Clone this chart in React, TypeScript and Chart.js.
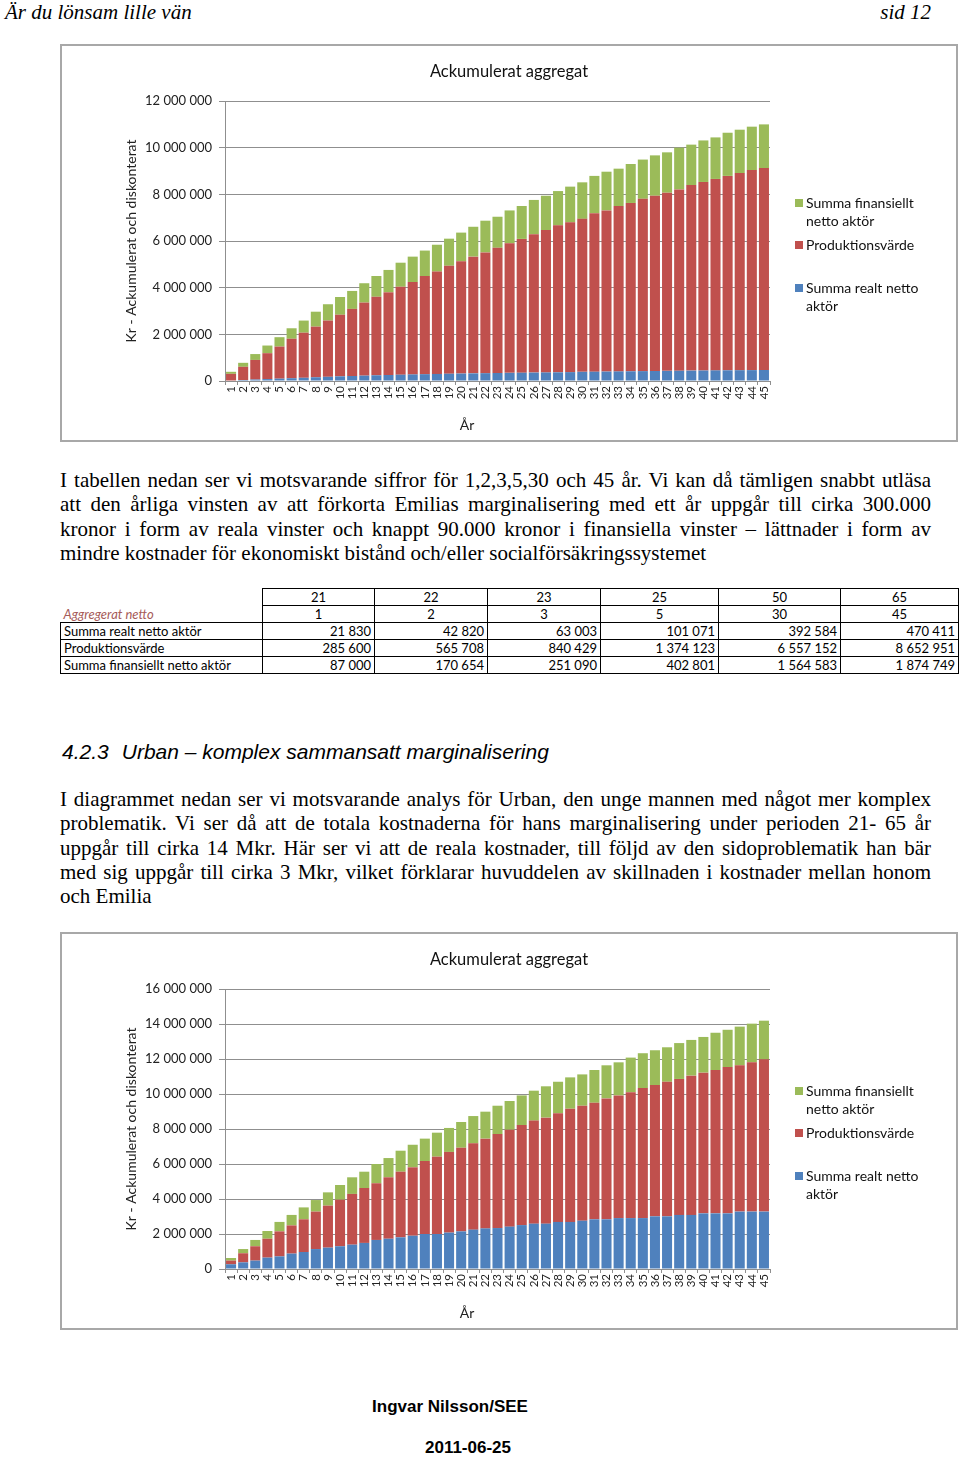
import React, { useEffect, useRef } from 'react';
import { Chart, registerables } from 'chart.js';

Chart.register(...registerables);
Chart.defaults.font.family = 'Lato';

// ---------- data ----------
const yearLabels = ['1','2','3','4','5','6','7','8','9','10','11','12','13','14','15','16','17','18','19','20','21','22','23','24','25','26','27','28','29','30','31','32','33','34','35','36','37','38','39','40','41','42','43','44','45'];

const seriesNames = ['Summa realt netto aktör', 'Produktionsvärde', 'Summa finansiellt netto aktör'];

// Emilia (first chart)
const emiliaReal = [21830, 42820, 63003, 82000, 101071, 120000, 138000, 160000, 180000, 200000, 215000, 230000, 245000, 258000, 270000, 282000, 293000, 303000, 312000, 320000, 328000, 335000, 342000, 349000, 355000, 361000, 367000, 373000, 380000, 392584, 398000, 405000, 411000, 417000, 423000, 429000, 434000, 440000, 445000, 450000, 455000, 459000, 463000, 467000, 470411];
const emiliaProd = [285600, 565708, 840429, 1110000, 1374123, 1690000, 1932000, 2170000, 2410000, 2640000, 2875000, 3130000, 3365000, 3542000, 3770000, 3958000, 4207000, 4387000, 4628000, 4810000, 5002000, 5175000, 5368000, 5551000, 5735000, 5929000, 6103000, 6297000, 6420000, 6557152, 6792000, 6905000, 7089000, 7213000, 7387000, 7511000, 7636000, 7770000, 7955000, 8080000, 8205000, 8331000, 8447000, 8573000, 8652951];
const emiliaFin = [87000, 170654, 251090, 328000, 402801, 450000, 520000, 640000, 700000, 760000, 770000, 830000, 890000, 960000, 1030000, 1090000, 1090000, 1150000, 1160000, 1230000, 1280000, 1360000, 1330000, 1410000, 1410000, 1470000, 1470000, 1470000, 1530000, 1564583, 1600000, 1660000, 1600000, 1670000, 1680000, 1730000, 1730000, 1790000, 1730000, 1780000, 1780000, 1850000, 1860000, 1860000, 1874749];

// Urban (second chart)
const urbanReal = [270000, 380000, 480000, 650000, 720000, 880000, 970000, 1140000, 1220000, 1300000, 1390000, 1490000, 1660000, 1730000, 1810000, 1900000, 2000000, 2000000, 2080000, 2150000, 2250000, 2320000, 2340000, 2420000, 2510000, 2590000, 2590000, 2690000, 2690000, 2760000, 2840000, 2840000, 2910000, 2910000, 2910000, 3010000, 3010000, 3090000, 3090000, 3180000, 3180000, 3180000, 3280000, 3280000, 3280000];
const urbanProd = [210000, 520000, 820000, 1080000, 1430000, 1610000, 1870000, 2140000, 2400000, 2660000, 2900000, 3140000, 3240000, 3510000, 3750000, 3910000, 4170000, 4420000, 4610000, 4780000, 4930000, 5130000, 5370000, 5540000, 5720000, 5890000, 6060000, 6210000, 6470000, 6570000, 6660000, 6910000, 7010000, 7190000, 7430000, 7500000, 7690000, 7770000, 7960000, 8040000, 8190000, 8360000, 8360000, 8530000, 8700000];
const urbanFin = [150000, 240000, 360000, 440000, 540000, 600000, 680000, 660000, 760000, 840000, 950000, 930000, 1100000, 1100000, 1200000, 1290000, 1280000, 1370000, 1370000, 1470000, 1560000, 1540000, 1620000, 1640000, 1690000, 1710000, 1790000, 1800000, 1790000, 1790000, 1870000, 1890000, 1890000, 1980000, 1990000, 1990000, 1970000, 2050000, 2040000, 2040000, 2130000, 2130000, 2210000, 2210000, 2210000];

// table
const tableAges = ['21', '22', '23', '25', '50', '65'];
const tableYears = ['1', '2', '3', '5', '30', '45'];
const tableReal = [21830, 42820, 63003, 101071, 392584, 470411];
const tableProd = [285600, 565708, 840429, 1374123, 6557152, 8652951];
const tableFin = [87000, 170654, 251090, 402801, 1564583, 1874749];

const para1 = [
  'I tabellen nedan ser vi motsvarande siffror för 1,2,3,5,30 och 45 år. Vi kan då tämligen snabbt utläsa',
  'att den årliga vinsten av att förkorta Emilias marginalisering med ett år uppgår till cirka 300.000',
  'kronor i form av reala vinster och knappt 90.000 kronor i finansiella vinster – lättnader i form av',
  'mindre kostnader för ekonomiskt bistånd och/eller socialförsäkringssystemet',
];
const para2 = [
  'I diagrammet nedan ser vi motsvarande analys för Urban, den unge mannen med något mer komplex',
  'problematik. Vi ser då att de totala kostnaderna för hans marginalisering under perioden 21- 65 år',
  'uppgår till cirka 14 Mkr. Här ser vi att de reala kostnader, till följd av den sidoproblematik han bär',
  'med sig uppgår till cirka 3 Mkr, vilket förklarar huvuddelen av skillnaden i kostnader mellan honom',
  'och Emilia',
];

const BLUE = '#4f81bd';
const RED = '#c0504d';
const GREEN = '#9bbb59';
const GRID = '#8f8f8f';

const fmt = (v: number) => String(Math.round(v)).replace(/\B(?=(\d{3})+(?!\d))/g, ' ');

function StackChart(props: { top: number; real: number[]; prod: number[]; fin: number[]; yMax: number }) {
  const ref = useRef<HTMLCanvasElement>(null);
  const { top, real, prod, fin, yMax } = props;
  useEffect(() => {
    if (!ref.current) return;
    const chart = new Chart(ref.current, {
      type: 'bar',
      data: {
        labels: yearLabels,
        datasets: [
          { label: seriesNames[0], data: real, backgroundColor: BLUE, barPercentage: 0.83, categoryPercentage: 1 },
          { label: seriesNames[1], data: prod, backgroundColor: RED, barPercentage: 0.83, categoryPercentage: 1 },
          { label: seriesNames[2], data: fin, backgroundColor: GREEN, barPercentage: 0.83, categoryPercentage: 1 },
        ],
      },
      options: {
        responsive: false,
        animation: false,
        layout: { padding: 0 },
        plugins: {
          legend: { display: false },
          tooltip: { enabled: false },
          title: {
            display: true,
            text: 'Ackumulerat aggregat',
            color: '#111',
            font: { size: 16.5, weight: 'normal' },
            padding: { top: 18.1, bottom: 19.1 },
          },
        },
        scales: {
          x: {
            stacked: true,
            offset: true,
            grid: { display: true, drawOnChartArea: false, drawTicks: true, tickLength: 4, color: GRID, offset: true },
            border: { display: true, color: GRID },
            ticks: { autoSkip: false, maxRotation: 90, minRotation: 90, padding: 1, color: '#222', font: { size: 11.5 } },
            afterFit: (s: any) => { s.height = 61; },
          },
          y: {
            stacked: true,
            min: 0,
            max: yMax,
            grid: { color: GRID, tickLength: 6 },
            border: { display: true, color: GRID },
            ticks: { stepSize: 2000000, padding: 7, color: '#222', font: { size: 13 }, callback: (v: any) => fmt(Number(v)) },
            title: {
              display: true,
              text: 'Kr - Ackumulerat och diskonterat',
              color: '#222',
              font: { size: 14 },
              padding: { top: 62.6, bottom: 0 },
            },
            afterFit: (s: any) => { s.width = 165; },
          },
          y2: {
            position: 'right',
            display: true,
            grid: { display: false },
            border: { display: false },
            ticks: { display: false },
            afterFit: (s: any) => { s.width = 188; },
          },
        },
      } as any,
    });
    return () => chart.destroy();
  }, []);

  const legendText: React.CSSProperties = {
    position: 'absolute', left: 806, fontFamily: 'Lato', fontSize: 14, lineHeight: '18px', color: '#111', whiteSpace: 'nowrap',
  };
  const sq = (color: string, t: number): React.CSSProperties => ({
    position: 'absolute', left: 795, top: t, width: 8, height: 8, background: color,
  });

  return (
    <>
      <div style={{ position: 'absolute', left: 60, top, width: 898, height: 398, boxSizing: 'border-box', border: '2px solid #a8a8a8' }} />
      <canvas ref={ref} width={898} height={398} style={{ position: 'absolute', left: 60, top, width: 898, height: 398, display: 'block' }} />
      <div style={sq(GREEN, top + 155)} />
      <div style={{ ...legendText, top: top + 150 }}>Summa finansiellt<br />netto aktör</div>
      <div style={sq(RED, top + 197)} />
      <div style={{ ...legendText, top: top + 192 }}>Produktionsvärde</div>
      <div style={sq(BLUE, top + 240)} />
      <div style={{ ...legendText, top: top + 235 }}>Summa realt netto<br />aktör</div>
      <div style={{ position: 'absolute', left: 437, width: 60, textAlign: 'center', top: top + 372, fontFamily: 'Lato', fontSize: 14, lineHeight: '18px', color: '#222' }}>År</div>
    </>
  );
}

function Para(props: { lines: string[]; top: number }) {
  const { lines, top } = props;
  return (
    <>
      {lines.map((l, i) => (
        <div
          key={i}
          style={{
            position: 'absolute', left: 60, width: 871, top: top + i * 24.3, height: 24.3,
            fontFamily: '"Liberation Serif", serif', fontSize: 21, lineHeight: '24.3px', color: '#000',
            whiteSpace: 'nowrap',
            textAlign: i === lines.length - 1 ? 'left' : 'justify',
            textAlignLast: i === lines.length - 1 ? 'left' : 'justify',
          } as React.CSSProperties}
        >
          {l}
        </div>
      ))}
    </>
  );
}

function DataTable() {
  const cell: React.CSSProperties = { border: '1px solid #000', height: 16, padding: '0 3px', fontFamily: 'Lato', fontSize: 13, lineHeight: '16px', overflow: 'hidden', whiteSpace: 'nowrap' };
  const none: React.CSSProperties = { ...cell, border: 'none' };
  const rows: [string, number[]][] = [
    [seriesNames[0], tableReal],
    [seriesNames[1], tableProd],
    [seriesNames[2], tableFin],
  ];
  return (
    <table style={{ position: 'absolute', left: 60, top: 588, width: 898, borderCollapse: 'collapse', tableLayout: 'fixed', color: '#000' }}>
      <colgroup>
        <col style={{ width: 202 }} />
        <col style={{ width: 112 }} />
        <col style={{ width: 113 }} />
        <col style={{ width: 113 }} />
        <col style={{ width: 118 }} />
        <col style={{ width: 122 }} />
        <col style={{ width: 118 }} />
      </colgroup>
      <tbody>
        <tr>
          <td style={none}></td>
          {tableAges.map((a, i) => <td key={i} style={{ ...cell, textAlign: 'center' }}>{a}</td>)}
        </tr>
        <tr>
          <td style={{ ...none, fontStyle: 'italic', color: '#a65b59' }}>Aggregerat netto</td>
          {tableYears.map((a, i) => <td key={i} style={{ ...cell, textAlign: 'center' }}>{a}</td>)}
        </tr>
        {rows.map(([name, vals], r) => (
          <tr key={r}>
            <td style={cell}>{name}</td>
            {vals.map((v, i) => <td key={i} style={{ ...cell, textAlign: 'right' }}>{fmt(v)}</td>)}
          </tr>
        ))}
      </tbody>
    </table>
  );
}

export default function App() {
  return (
    <div style={{ position: 'absolute', left: 0, top: 0, width: 960, height: 1458, background: '#fff', overflow: 'hidden' }}>
      <div style={{ position: 'absolute', left: 5, top: 0, fontFamily: '"Liberation Serif", serif', fontStyle: 'italic', fontSize: 21, lineHeight: '24.3px', whiteSpace: 'nowrap' }}>Är du lönsam lille vän</div>
      <div style={{ position: 'absolute', right: 29, top: 0, fontFamily: '"Liberation Serif", serif', fontStyle: 'italic', fontSize: 21, lineHeight: '24.3px', whiteSpace: 'nowrap' }}>sid 12</div>

      <StackChart top={44} real={emiliaReal} prod={emiliaProd} fin={emiliaFin} yMax={12000000} />

      <Para lines={para1} top={468} />

      <DataTable />

      <div style={{ position: 'absolute', left: 62, top: 740, fontFamily: '"Liberation Sans", Arial, sans-serif', fontStyle: 'italic', fontSize: 21, lineHeight: '24px', whiteSpace: 'nowrap' }}>
        4.2.3<span style={{ marginLeft: 13 }}>Urban – komplex sammansatt marginalisering</span>
      </div>

      <Para lines={para2} top={787} />

      <StackChart top={932} real={urbanReal} prod={urbanProd} fin={urbanFin} yMax={16000000} />

      <div style={{ position: 'absolute', left: 350, width: 200, textAlign: 'center', top: 1396, fontFamily: '"Liberation Sans", Arial, sans-serif', fontWeight: 'bold', fontSize: 17, lineHeight: '22px', whiteSpace: 'nowrap' }}>Ingvar Nilsson/SEE</div>
      <div style={{ position: 'absolute', left: 368, width: 200, textAlign: 'center', top: 1437, fontFamily: '"Liberation Sans", Arial, sans-serif', fontWeight: 'bold', fontSize: 17, lineHeight: '22px', whiteSpace: 'nowrap' }}>2011-06-25</div>
    </div>
  );
}
